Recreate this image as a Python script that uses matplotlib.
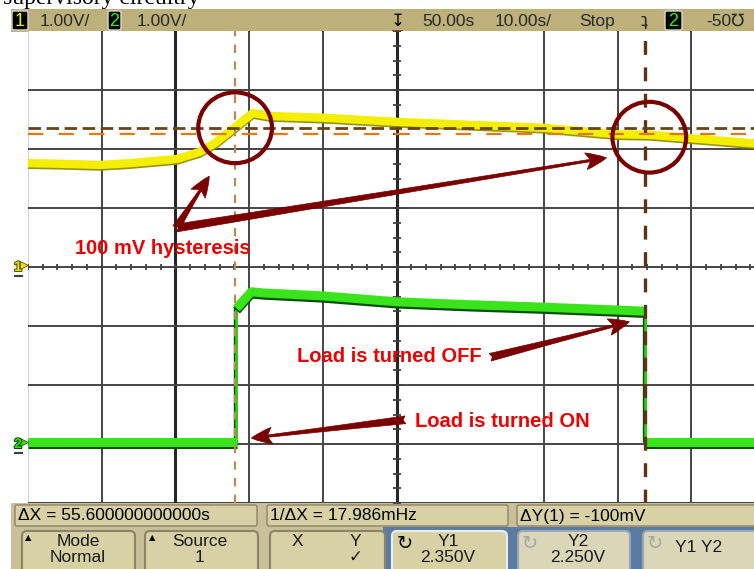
import numpy as np
import matplotlib
matplotlib.use('Agg')
import matplotlib.pyplot as plt
from matplotlib.patches import Rectangle, FancyBboxPatch, Ellipse, FancyArrowPatch
import matplotlib.patheffects as pe

plt.rcParams['font.family'] = ['Liberation Sans', 'DejaVu Sans']
plt.rcParams['lines.scale_dashes'] = False

# channel 1: supply voltage (V) vs time (s)
t1 = [0, 4.3, 9.8, 13.8, 20.2, 23.3, 25.4, 28.1, 30.5, 32.8, 40.0, 50.1, 60.0, 69.9, 79.9, 84.4, 91.2, 100]
v1 = [1.76, 1.75, 1.73, 1.76, 1.83, 1.95, 2.10, 2.37, 2.61, 2.56, 2.53, 2.46, 2.41, 2.36, 2.25, 2.24, 2.17, 2.08]
# channel 2: load switch output (V)
t2 = [0, 28.3, 28.3, 30.3, 32.0, 40.0, 50.1, 60.0, 69.9, 80.0, 83.8, 83.8, 100]
v2 = [0.04, 0.04, 2.30, 2.58, 2.56, 2.51, 2.41, 2.36, 2.32, 2.27, 2.25, 0.04, 0.04]

ch1_scale, ch2_scale = 1.0, 1.0   # V/div
ch1_pos, ch2_pos = 0, -3          # ground marker, div
time_div, t_center = 10.0, 50.0

x1_cur, x2_cur = 28.1, 83.7       # s
y1_cur, y2_cur = 2.350, 2.250     # V

W, H = 754, 569
fig = plt.figure(figsize=(W / 100, H / 100), dpi=100)
fig.patch.set_facecolor('white')

# chrome layer in pixel coordinates
ov = fig.add_axes([0, 0, 1, 1], zorder=0)
ov.set_xlim(0, W)
ov.set_ylim(H, 0)
ov.axis('off')

# scope screen
ax = fig.add_axes([28 / W, (H - 503) / H, 737 / W, 472 / H], zorder=1)
ax.set_xlim(t_center - 5 * time_div, t_center + 5 * time_div)
ax.set_ylim(-4, 4)
ax.set_facecolor('white')
ax.set_xticks([])
ax.set_yticks([])
for s in ax.spines.values():
    s.set_visible(False)
ax.axvline(0, color='#d4d4d4', lw=1.6, zorder=1)
ax.axhline(-4, color='#404040', lw=1.4, zorder=1)

grid_t = [10, 20, 30, 40, 50, 70, 80, 90]
for g in grid_t:
    ax.axvline(g, color='#262626' if g in (20, 50) else '#454545',
               lw=2.2 if g in (20, 50) else 1.4, zorder=1)
for g in range(-3, 4):
    ax.axhline(g, color='#454545', lw=1.4, zorder=1)

# minor ticks on the centre lines
mx = np.arange(0, 100.1, 2.0)
ax.plot(mx, np.zeros_like(mx), ls='none', marker='|', ms=5, mew=1.3, color='#404040', zorder=1)
my = np.arange(-4, 4.01, 0.25)
ax.plot(np.full_like(my, t_center), my, ls='none', marker='_', ms=6, mew=1.3, color='#404040', zorder=1)

# channel 1 trace
y_ch1 = np.array(v1) / ch1_scale + ch1_pos
ax.plot(t1, y_ch1, color='#f4ee00', lw=6, solid_capstyle='butt', zorder=3,
        path_effects=[pe.SimpleLineShadow(offset=(0, -1.2), shadow_color='#8c8a00', alpha=0.9),
                      pe.Normal()])

# channel 2 trace: thin edges, thick levels
t2a = np.array(t2)
y_ch2 = np.array(v2) / ch2_scale + ch2_pos
ax.plot(t2a, y_ch2, color='#2ecc10', lw=2.0, zorder=3,
        path_effects=[pe.SimpleLineShadow(offset=(-1, 0), shadow_color='#0b4d0b', alpha=1), pe.Normal()])
cuts = np.where(np.diff(t2a) == 0)[0]
starts = np.r_[0, cuts + 1]
ends = np.r_[cuts, len(t2a) - 1]
for a, b in zip(starts, ends):
    ax.plot(t2a[a:b + 1], y_ch2[a:b + 1], color='#39e51a', lw=6.5, solid_capstyle='butt', zorder=3,
            path_effects=[pe.SimpleLineShadow(offset=(0, -1.6), shadow_color='#0b4d0b', alpha=1),
                          pe.Normal()])

# cursors
ax.axvline(x1_cur, color='#b98a55', lw=1.6, dashes=(6, 6), zorder=4)
ax.axvline(x2_cur, color='#5c3510', lw=2.4, dashes=(10, 9), zorder=4)
ax.axhline(y1_cur / ch1_scale + ch1_pos, color='#6a4218', lw=2.0, dashes=(9, 4), zorder=4)
ax.axhline(y2_cur / ch1_scale + ch1_pos, color='#e57a0c', lw=1.6, dashes=(11, 11), zorder=4)

# annotations
red = '#7a0000'
for cx, cy in [(x1_cur, 2.36), (84.3, 2.2)]:
    ax.add_patch(Ellipse((cx, cy), 10.0, 1.2, fill=False, ec=red, lw=3.0, zorder=6))

arrows = [((20.1, 0.66), (24.6, 1.54)),
          ((20.1, 0.66), (78.5, 1.85)),
          ((62.7, -1.53), (81.6, -0.93)),
          ((51.2, -2.59), (30.3, -2.90))]
for p0, p1 in arrows:
    ax.add_patch(FancyArrowPatch(p0, p1, arrowstyle='fancy,head_length=0.75,head_width=0.6,tail_width=0.28',
                                 mutation_scale=20, fc=red, ec=red, lw=0.5, shrinkA=0, shrinkB=0, zorder=6))

txt = dict(color='#ee0000', fontsize=14.5, fontweight='bold', va='center', ha='left', zorder=7)
ax.text(6.4, 0.32, '100 mV hysteresis', **txt)
ax.text(36.5, -1.51, 'Load is turned OFF', **txt)
ax.text(52.5, -2.62, 'Load is turned ON', **txt)

# channel ground markers
for cy, col, lab in [(267, '#e6e000', '1'), (444, '#33dd11', '2')]:
    ov.text(18, cy, lab, color=col, fontsize=10, fontweight='bold', ha='center', va='center',
            path_effects=[pe.withStroke(linewidth=1.5, foreground='#555500' if lab == '1' else '#0b4d0b')])
    ov.plot(24, cy - 2, marker='>', ms=6, color=col, mec='#404000', mew=0.5)
    ov.plot([15, 22], [cy + 9, cy + 9], color='#404040', lw=1.5)

# caption running off the top edge
ov.text(3, 3.5, 'supervisory circuitry', family=['Liberation Serif', 'DejaVu Serif'],
        fontsize=17, color='black', va='baseline', ha='left')

# top status bar
bar_c = '#bdb07a'
ov.add_patch(Rectangle((11, 9), W - 11, 23, fc=bar_c, ec='none'))
dark = '#2a2a2a'
for x0, w, col, lab in [(12, 16, '#f0f000', '1'), (108, 13, '#33ee11', '2'), (665, 17, '#33ee11', '2')]:
    ov.add_patch(FancyBboxPatch((x0, 11), w, 19, boxstyle='round,pad=0,rounding_size=2',
                                fc='black', ec='#d8d8d8', lw=1))
    ov.text(x0 + w / 2, 21, lab, color=col, fontsize=13, ha='center', va='center')
tb = dict(color=dark, fontsize=12.5, va='center', ha='left')
ov.text(40, 21, '1.00V/', **tb)
ov.text(137, 21, '1.00V/', **tb)
ov.text(398, 21, '\u21a7', color='black', fontsize=12, ha='center', va='center', family='DejaVu Sans')
ov.text(422, 21, '50.00s', **tb)
ov.text(495, 21, '10.00s/', **tb)
ov.text(579, 21, 'Stop', **tb)
ov.text(644, 21, '\u0287', color=dark, fontsize=13, ha='center', va='center', family='DejaVu Sans')
ov.text(706, 21, '-50\u2127', **tb)
ov.plot(397, 35, marker='v', ms=7, color='#e87812', mec='#7a3a00', mew=0.6, zorder=5)
ov.plot(31, 35, marker='v', ms=5, color='#e87812', mec='#7a3a00', mew=0.5, zorder=5)

# softkey area
ov.add_patch(Rectangle((11, 503), W - 11, H - 503, fc='#c9c09a', ec='none'))
ov.add_patch(Rectangle((383, 527), W - 383, H - 527, fc='#5b7ba2', ec='none'))
row1 = [(15, 257, '\u0394X = 55.600000000000s'),
        (267, 508, '1/\u0394X = 17.986mHz'),
        (517, 775, '\u0394Y(1) = -100mV')]
for xa, xb, lab in row1:
    ov.add_patch(FancyBboxPatch((xa, 505), xb - xa, 21, boxstyle='round,pad=0,rounding_size=2',
                                fc='#d9d1a6', ec='#8c8466', lw=1.0))
    ov.text(xa + 3, 516, lab, color='black', fontsize=12.5, va='center', ha='left')

keys = [(22, 135, '#d9d1a6', '#8c8466'), (145, 258, '#d9d1a6', '#8c8466'),
        (270, 385, '#d9d1a6', '#8c8466'), (392, 507, '#d9d1a6', '#e8eef6'),
        (518, 630, '#dcd6b8', '#9aa8bc'), (643, 790, '#dcd6b8', '#9aa8bc')]
for xa, xb, fc, ec in keys:
    ov.add_patch(FancyBboxPatch((xa, 531), xb - xa, 48, boxstyle='round,pad=0,rounding_size=5',
                                fc=fc, ec=ec, lw=1.5))
kt = dict(color='#1a1a1a', fontsize=12.5, ha='center', va='center')
ov.text(28, 538, '\u25b2', color='black', fontsize=6, ha='center', va='center', family='DejaVu Sans')
ov.text(152, 538, '\u25b2', color='black', fontsize=6, ha='center', va='center', family='DejaVu Sans')
ov.text(78, 541, 'Mode', **kt)
ov.text(78, 557, 'Normal', **kt)
ov.text(200, 541, 'Source', **kt)
ov.text(200, 557, '1', **kt)
ov.text(297, 541, 'X', **kt)
ov.text(355, 541, 'Y', **kt)
ov.text(355, 557, '\u2713', color='#1a1a1a', fontsize=12, ha='center', va='center', family='DejaVu Sans')
ov.text(405, 543, '\u21bb', color='black', fontsize=14, ha='center', va='center', family='DejaVu Sans')
ov.text(448, 541, 'Y1', **kt)
ov.text(448, 557, '2.350V', **kt)
ov.text(530, 543, '\u21bb', color='#a8a8a0', fontsize=14, ha='center', va='center', family='DejaVu Sans')
ov.text(578, 541, 'Y2', **kt)
ov.text(578, 557, '2.250V', **kt)
ov.text(655, 543, '\u21bb', color='#a8a8a0', fontsize=14, ha='center', va='center', family='DejaVu Sans')
ov.text(699, 548, 'Y1 Y2', **kt)

fig.savefig('out.png', dpi=100)
